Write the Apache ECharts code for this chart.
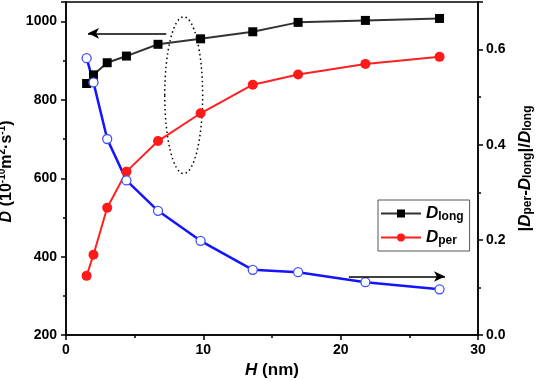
<!DOCTYPE html>
<html><head><meta charset="utf-8">
<script src="https://cdn.jsdelivr.net/npm/echarts@6/dist/echarts.min.js"></script>
<style>html,body{margin:0;padding:0;background:#fff}#c{width:536px;height:381px}</style>
</head><body><div id="c"></div>
<script>
// ---- data ----
const H = [1.5, 2.0, 3.0, 4.4, 6.7, 9.8, 13.6, 16.9, 21.8, 27.2];
const Dlong = [842, 864, 895, 912, 942, 956, 974, 998, 1003, 1008];
const Dper = [351, 405, 525, 617, 695, 766, 839, 865, 892, 910];
const ratio = [0.582, 0.531, 0.412, 0.325, 0.261, 0.198, 0.137, 0.132, 0.111, 0.096];
const xTicks = [0, 10, 20, 30];
const leftTicks = [200, 400, 600, 800, 1000];
const rightTicks = [0.0, 0.2, 0.4, 0.6];
// annotations (data units)
const leftArrow = [[7.3, 970], [1.6, 970]];
const rightArrow = [[20.6, 0.123], [27.6, 0.123]];
const ellipse = [8.57, 812, 1.38, 200];

const FONT = 'Liberation Sans, Arial, sans-serif';
const chart = echarts.init(document.getElementById('c'));
const pairs = a => H.map((h, i) => [h, a[i]]);
const axisCommon = {
  axisLine: {show: true, lineStyle: {color: '#000', width: 1.5}},
  axisTick: {show: true, inside: false, length: 5, lineStyle: {color: '#000', width: 1.5}},
  minorTick: {show: true, splitNumber: 2, length: 3, lineStyle: {color: '#000', width: 1.5}},
  splitLine: {show: false},
  axisLabel: {color: '#000', fontFamily: FONT, fontWeight: 'bold', fontSize: 14, showMaxLabel: false},
  nameTextStyle: {color: '#000', fontFamily: FONT, fontWeight: 'bold', fontSize: 17}
};
const richName = {
  i: {fontFamily: FONT, fontWeight: 'bold', fontStyle: 'italic', fontSize: 17, color: '#000'},
  n: {fontFamily: FONT, fontWeight: 'bold', fontSize: 17, color: '#000'},
  sup: {fontFamily: FONT, fontWeight: 'bold', fontSize: 10, color: '#000', verticalAlign: 'top', padding: [0, 0, 8, 0]},
  sub: {fontFamily: FONT, fontWeight: 'bold', fontSize: 12, color: '#000', verticalAlign: 'bottom', padding: [6, 0, 0, 0]}
};
const richLeft = {
  i: {fontFamily: FONT, fontWeight: 'bold', fontStyle: 'italic', fontSize: 16, color: '#000'},
  n: {fontFamily: FONT, fontWeight: 'bold', fontSize: 16, color: '#000'},
  sup: {fontFamily: FONT, fontWeight: 'bold', fontSize: 10, color: '#000', verticalAlign: 'top', padding: [0, 0, 8, 0]}
};
chart.setOption({
  animation: false,
  backgroundColor: '#fff',
  grid: {left: 66, right: 58, top: 2, bottom: 46, show: true, borderColor: '#000', borderWidth: 1.5,
    containLabel: false, outerBoundsMode: 'none'},
  legend: {
    data: ['Dlong', 'Dper'],
    orient: 'vertical', left: 378, top: 200,
    padding: [5, 6, 4, 2], itemGap: 6, itemWidth: 40, itemHeight: 10,
    backgroundColor: '#fff', borderColor: '#555', borderWidth: 1,
    formatter: n => n === 'Dlong' ? '{i|D}{s|long}' : '{i|D}{s|per}',
    textStyle: {rich: {
      i: {fontFamily: FONT, fontWeight: 'bold', fontStyle: 'italic', fontSize: 17, color: '#000'},
      s: {fontFamily: FONT, fontWeight: 'bold', fontSize: 12, color: '#000', verticalAlign: 'bottom', padding: [7, 0, 0, 0]}
    }}
  },
  xAxis: Object.assign({}, axisCommon, {
    type: 'value', min: xTicks[0], max: xTicks[xTicks.length - 1], interval: 10,
    axisLabel: Object.assign({}, axisCommon.axisLabel, {margin: 8, showMaxLabel: true, formatter: v => String(v)}),
    name: '{i|H} {n|(nm)}', nameLocation: 'middle', nameGap: 26,
    nameTextStyle: Object.assign({}, axisCommon.nameTextStyle, {rich: richName})
  }),
  yAxis: [
    Object.assign({}, axisCommon, {
      type: 'value', min: leftTicks[0], max: 1050, interval: 200, position: 'left',
      axisLabel: Object.assign({}, axisCommon.axisLabel, {margin: 9, formatter: v => String(v)}),
      name: '{i|D} {n|(10}{sup|-10}{n|m}{sup|2}{n|·s}{sup|-1}{n|)}', nameLocation: 'middle', nameGap: 34, nameRotate: 90,
      nameTextStyle: Object.assign({}, axisCommon.nameTextStyle, {rich: richLeft, padding: [0, 6, 0, 0]})
    }),
    Object.assign({}, axisCommon, {
      type: 'value', min: rightTicks[0], max: 0.7, interval: 0.2, position: 'right',
      axisLabel: Object.assign({}, axisCommon.axisLabel, {margin: 8, formatter: v => v.toFixed(1)}),
      name: '{n||}{i|D}{sub|per}{n|-}{i|D}{sub|long}{n||/}{i|D}{sub|long}', nameLocation: 'middle', nameGap: 30, nameRotate: 90,
      nameTextStyle: Object.assign({}, axisCommon.nameTextStyle, {rich: richName})
    })
  ],
  series: [
    {
      name: 'Dlong', type: 'line', data: pairs(Dlong), yAxisIndex: 0,
      symbol: 'rect', symbolSize: 9,
      lineStyle: {color: '#333', width: 2}, itemStyle: {color: '#000'},
      markLine: {
        silent: true, symbol: ['none', 'arrow'], symbolSize: [8, 11],
        lineStyle: {color: '#000', width: 1.5, type: 'solid'}, label: {show: false},
        data: [[{coord: leftArrow[0]}, {coord: leftArrow[1]}]]
      }
    },
    {
      name: 'Dper', type: 'line', data: pairs(Dper), yAxisIndex: 0,
      symbol: 'circle', symbolSize: 10,
      lineStyle: {color: '#ff2020', width: 2}, itemStyle: {color: '#ff1a1a'}
    },
    {
      name: 'ratio', type: 'line', data: pairs(ratio), yAxisIndex: 1,
      symbol: 'circle', symbolSize: 9, showSymbol: true,
      lineStyle: {color: '#1414ff', width: 2.5},
      itemStyle: {color: '#fff', borderColor: '#4050ff', borderWidth: 1.3},
      markLine: {
        silent: true, symbol: ['none', 'arrow'], symbolSize: [8, 11],
        lineStyle: {color: '#000', width: 1.5, type: 'solid'}, label: {show: false},
        data: [[{coord: rightArrow[0]}, {coord: rightArrow[1]}]]
      }
    },
    {
      name: 'ellipse', type: 'custom', yAxisIndex: 0, silent: true,
      data: [ellipse],
      renderItem: (params, api) => {
        const c = api.coord([api.value(0), api.value(1)]);
        const e = api.coord([api.value(0) + api.value(2), api.value(1) + api.value(3)]);
        return {type: 'ellipse', shape: {cx: c[0], cy: c[1], rx: Math.abs(e[0] - c[0]), ry: Math.abs(c[1] - e[1])},
          style: {fill: 'none', stroke: '#000', lineWidth: 1.5, lineDash: [1.5, 3]}};
      }
    }
  ]
});
</script></body></html>
